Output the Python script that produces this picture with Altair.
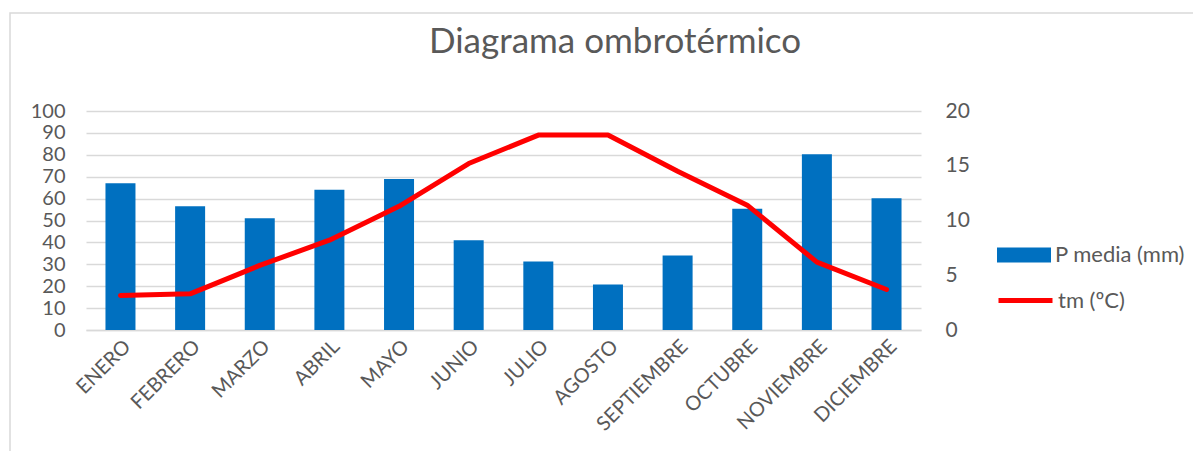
import altair as alt
import pandas as pd

meses = ["ENERO", "FEBRERO", "MARZO", "ABRIL", "MAYO", "JUNIO", "JULIO",
         "AGOSTO", "SEPTIEMBRE", "OCTUBRE", "NOVIEMBRE", "DICIEMBRE"]
precip = [67, 56.5, 51, 64, 69, 41, 31.3, 20.8, 34, 55.4, 80.2, 60.2]
temp = [3.15, 3.3, 5.9, 8.2, 11.3, 15.2, 17.8, 17.8, 14.5, 11.4, 6.2, 3.7]
titulo = ["Diagrama ombrotérmico"]

df = pd.DataFrame({"mes": meses, "P": precip, "T": temp})

FONT = "Lato"
GREY = "#595959"

x = alt.X("mes:N", sort=meses, title=None,
          scale=alt.Scale(paddingInner=0.57, paddingOuter=0.28),
          axis=alt.Axis(labelAngle=-45, labelFontSize=20, labelColor=GREY,
                        labelFont=FONT, ticks=False, domainColor="#d9d9d9",
                        domainWidth=1.5, labelPadding=6))

bars = alt.Chart(df).mark_bar(color="#0070C0", size=30).encode(
    x=x,
    y=alt.Y("P:Q", title=None,
            scale=alt.Scale(domain=[0, 100]),
            axis=alt.Axis(values=list(range(0, 101, 10)), labelFontSize=20,
                          labelColor=GREY, labelFont=FONT, ticks=False,
                          domain=False, gridColor="#d9d9d9", gridWidth=1.5,
                          labelPadding=21)),
    color=alt.Color("s:N", scale=alt.Scale(domain=["P media (mm)"], range=["#0070C0"]),
                    legend=alt.Legend(title=None, orient="none", legendX=910,
                                      legendY=116, symbolType="M-1,-0.28H1V0.28H-1Z",
                                      symbolSize=2916, labelFontSize=22,
                                      labelColor=GREY, labelFont=FONT,
                                      labelOffset=3)),
).transform_calculate(s="'P media (mm)'")

line = alt.Chart(df).mark_line(color="#FF0000", strokeWidth=5, strokeCap="round",
                               strokeJoin="round").encode(
    x=x,
    y=alt.Y("T:Q", title=None,
            scale=alt.Scale(domain=[0, 20]),
            axis=alt.Axis(orient="right", values=[0, 5, 10, 15, 20], labelFontSize=21,
                          labelColor=GREY, labelFont=FONT, ticks=False,
                          domain=False, grid=False, labelPadding=24)),
    stroke=alt.Stroke("t:N", scale=alt.Scale(domain=["tm (ºC)"], range=["#FF0000"]),
                      legend=alt.Legend(title=None, orient="none", legendX=910,
                                        legendY=160, symbolType="stroke",
                                        symbolSize=2916, symbolStrokeWidth=5,
                                        labelFontSize=22, labelColor=GREY,
                                        labelFont=FONT, labelOffset=3)),
).transform_calculate(t="'tm (ºC)'")

single = pd.DataFrame({"titulo": titulo})

border = alt.Chart(single).mark_rect(
    fill=None, stroke="#d9d9d9", strokeWidth=1.5).encode(
    x=alt.value(-76), x2=alt.value(1300), y=alt.value(-98), y2=alt.value(600))

title = alt.Chart(single).mark_text(
    font=FONT, fontSize=35, color=GREY, align="center", baseline="middle").encode(
    text="titulo:N", x=alt.value(529), y=alt.value(-69))

chart = alt.layer(border, bars, line, title).resolve_scale(
    y="independent", color="independent", stroke="independent"
).properties(
    width=835, height=219,
    autosize=alt.AutoSizeParams(type="none"),
    padding={"left": 78, "top": 103, "right": 272, "bottom": 121},
).configure_view(stroke=None)

chart.save("out.html", embed_options={"renderer": "svg", "actions": False})
